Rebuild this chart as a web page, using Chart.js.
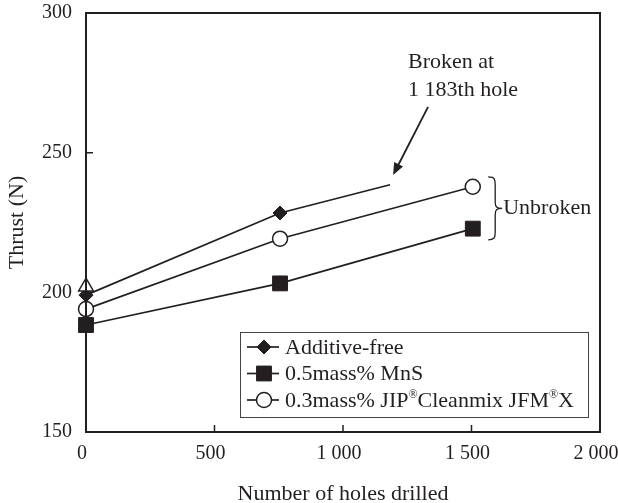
<!DOCTYPE html>
<html>
<head>
<meta charset="utf-8">
<script src="https://cdn.jsdelivr.net/npm/chart.js@4/dist/chart.umd.min.js"></script>
<style>
  html, body { margin: 0; padding: 0; background: #ffffff; }
  #wrap { width: 618px; height: 503px; }
</style>
</head>
<body>
<div id="wrap"><canvas id="c" width="618" height="503"></canvas></div>
<script>
// Thrust measured against the number of holes drilled, per material
const seriesNames = ['Additive-free', '0.5mass% MnS', '0.3mass% JIP\u00AECleanmix JFM\u00AEX'];
const holesAdditiveFree = [0, 755, 1183];
const thrustAdditiveFree = [199, 228.4, 238.5];
const holesMnS = [0, 755, 1505];
const thrustMnS = [188.3, 203.2, 222.8];
const holesCleanmix = [0, 755, 1505];
const thrustCleanmix = [194, 219.2, 237.8];
const holesStart = [0];
const thrustStartTriangle = [202];
const xTicks = [0, 500, 1000, 1500, 2000];
const yTicks = [150, 200, 250, 300];

const INK = '#231f20';
const SERIF = '"Liberation Serif", "Times New Roman", serif';

function pts(xs, ys) { return xs.map((x, i) => ({ x: x, y: ys[i] })); }

const datasets = [
  {
    label: 'start',
    data: pts(holesStart, thrustStartTriangle),
    showLine: false,
    pointStyle: 'triangle',
    pointRadius: 8.5,
    pointBackgroundColor: '#ffffff',
    pointBorderColor: INK,
    pointBorderWidth: 1.5,
    clip: false,
    order: 0
  },
  {
    label: seriesNames[2],
    data: pts(holesCleanmix, thrustCleanmix),
    borderColor: INK, borderWidth: 1.7,
    pointStyle: 'circle', pointRadius: 7.5,
    pointBackgroundColor: '#ffffff', pointBorderColor: INK, pointBorderWidth: 1.5,
    clip: false,
    order: 1
  },
  {
    label: seriesNames[0],
    data: pts(holesAdditiveFree, thrustAdditiveFree),
    borderColor: INK, borderWidth: 1.7,
    pointStyle: 'rectRot', pointRadius: [7, 7, 0],
    pointBackgroundColor: INK, pointBorderColor: INK, pointBorderWidth: 1,
    clip: false,
    order: 2
  },
  {
    label: seriesNames[1],
    data: pts(holesMnS, thrustMnS),
    borderColor: INK, borderWidth: 1.7,
    pointStyle: 'rect', pointRadius: 10.5,
    pointBackgroundColor: INK, pointBorderColor: INK, pointBorderWidth: 1,
    clip: false,
    order: 3
  }
];

// draws text, setting each ® as a small raised mark
function fillRichText(ctx, text, x, y) {
  const parts = text.split('\u00AE');
  let cx = x;
  parts.forEach((p, i) => {
    ctx.font = '22px ' + SERIF;
    ctx.fillText(p, cx, y);
    cx += ctx.measureText(p).width;
    if (i < parts.length - 1) {
      ctx.font = '12px ' + SERIF;
      ctx.fillText('\u00AE', cx, y - 6);
      cx += ctx.measureText('\u00AE').width;
    }
  });
  ctx.font = '22px ' + SERIF;
}

// Frame, inward tick marks, legend box and annotations
const decorations = {
  id: 'decorations',
  afterDatasetsDraw(chart) {
    const ctx = chart.ctx;
    const a = chart.chartArea;
    const xs = chart.scales.x, ys = chart.scales.y;
    ctx.save();
    ctx.strokeStyle = INK;
    ctx.fillStyle = INK;

    // plot frame
    ctx.lineWidth = 2;
    ctx.strokeRect(a.left, a.top, a.right - a.left, a.bottom - a.top);

    // inward ticks
    ctx.lineWidth = 1.5;
    ctx.beginPath();
    yTicks.slice(1, -1).forEach(v => {
      const y = ys.getPixelForValue(v);
      ctx.moveTo(a.left, y); ctx.lineTo(a.left + 7, y);
    });
    xTicks.slice(1, -1).forEach(v => {
      const x = xs.getPixelForValue(v);
      ctx.moveTo(x, a.bottom); ctx.lineTo(x, a.bottom - 7);
    });
    ctx.stroke();

    // annotation: broken drill
    ctx.font = '22px ' + SERIF;
    ctx.textAlign = 'left';
    ctx.textBaseline = 'middle';
    const tx = xs.getPixelForValue(1253);
    ctx.fillText('Broken at', tx, ys.getPixelForValue(282.4));
    ctx.fillText('1 183th hole', tx, ys.getPixelForValue(272.3));

    const ax0 = xs.getPixelForValue(1331), ay0 = ys.getPixelForValue(266.4);
    const ax1 = xs.getPixelForValue(1195), ay1 = ys.getPixelForValue(242.0);
    const ang = Math.atan2(ay1 - ay0, ax1 - ax0);
    const hl = 12, hw = 5;
    ctx.lineWidth = 1.8;
    ctx.beginPath();
    ctx.moveTo(ax0, ay0);
    ctx.lineTo(ax1 - Math.cos(ang) * hl * 0.8, ay1 - Math.sin(ang) * hl * 0.8);
    ctx.stroke();
    ctx.beginPath();
    ctx.moveTo(ax1, ay1);
    ctx.lineTo(ax1 - Math.cos(ang) * hl - Math.sin(ang) * hw, ay1 - Math.sin(ang) * hl + Math.cos(ang) * hw);
    ctx.lineTo(ax1 - Math.cos(ang) * hl + Math.sin(ang) * hw, ay1 - Math.sin(ang) * hl - Math.cos(ang) * hw);
    ctx.closePath();
    ctx.fill();

    // brace for the unbroken series
    const bx = xs.getPixelForValue(1565);
    const btop = ys.getPixelForValue(241.3), bbot = ys.getPixelForValue(218.8);
    const bmid = (btop + bbot) / 2;
    const tip = bx + 14, w = 7;
    ctx.lineWidth = 1.3;
    ctx.beginPath();
    ctx.moveTo(bx, btop);
    ctx.bezierCurveTo(bx + w, btop, bx + w, btop + 3, bx + w, btop + 8);
    ctx.lineTo(bx + w, bmid - 6);
    ctx.bezierCurveTo(bx + w, bmid - 1, bx + w + 2, bmid, tip, bmid);
    ctx.bezierCurveTo(bx + w + 2, bmid, bx + w, bmid + 1, bx + w, bmid + 6);
    ctx.lineTo(bx + w, bbot - 8);
    ctx.bezierCurveTo(bx + w, bbot - 3, bx + w, bbot, bx, bbot);
    ctx.stroke();
    ctx.fillText('Unbroken', tip + 1, bmid);

    // legend
    const lx = 240, ly = 332, lw = 348, lh = 85;
    ctx.fillStyle = '#ffffff';
    ctx.fillRect(lx, ly, lw, lh);
    ctx.strokeStyle = '#444';
    ctx.lineWidth = 1;
    ctx.strokeRect(lx + 0.5, ly + 0.5, lw, lh);
    const rows = [datasets[2], datasets[3], datasets[1]];
    rows.forEach((ds, i) => {
      const cy = ly + 15 + i * 26.5;
      ctx.strokeStyle = INK;
      ctx.lineWidth = 1.7;
      ctx.beginPath();
      ctx.moveTo(lx + 7, cy); ctx.lineTo(lx + 39, cy);
      ctx.stroke();
      const r = Array.isArray(ds.pointRadius) ? ds.pointRadius[0] : ds.pointRadius;
      ctx.fillStyle = ds.pointBackgroundColor;
      ctx.strokeStyle = ds.pointBorderColor;
      ctx.lineWidth = ds.pointBorderWidth;
      Chart.helpers.drawPoint(ctx, { pointStyle: ds.pointStyle, radius: r, borderWidth: ds.pointBorderWidth, rotation: 0 }, lx + 24, cy);
      ctx.fillStyle = INK;
      ctx.textAlign = 'left';
      ctx.textBaseline = 'middle';
      fillRichText(ctx, ds.label, lx + 45, cy + 1);
    });
    ctx.restore();
  }
};

new Chart(document.getElementById('c'), {
  type: 'line',
  data: { datasets: datasets },
  options: {
    responsive: false,
    animation: false,
    devicePixelRatio: 1,
    layout: { padding: { top: 13, right: 18, left: 0, bottom: 0 } },
    plugins: { legend: { display: false }, tooltip: { enabled: false } },
    elements: { line: { tension: 0 } },
    scales: {
      x: {
        type: 'linear',
        min: xTicks[0], max: xTicks[xTicks.length - 1],
        afterBuildTicks: s => { s.ticks = xTicks.map(v => ({ value: v })); },
        afterFit: s => { s.height = 71; s.paddingLeft = 0; s.paddingRight = 0; },
        grid: { display: false, drawTicks: false },
        border: { display: false },
        ticks: {
          color: INK,
          font: { family: SERIF, size: 20 },
          padding: 10,
          labelOffset: -4,
          maxRotation: 0,
          callback: v => v >= 1000 ? Math.floor(v / 1000) + ' ' + String(v % 1000).padStart(3, '0') : String(v)
        },
        title: {
          display: true,
          text: 'Number of holes drilled',
          color: INK,
          font: { family: SERIF, size: 22, lineHeight: 0.8 },
          padding: { top: 0, bottom: 0 }
        }
      },
      y: {
        type: 'linear',
        min: yTicks[0], max: yTicks[yTicks.length - 1],
        afterBuildTicks: s => { s.ticks = yTicks.map(v => ({ value: v })); },
        afterFit: s => { s.width = 86; s.paddingTop = 0; s.paddingBottom = 0; },
        grid: { display: false, drawTicks: false },
        border: { display: false },
        ticks: {
          color: INK,
          font: { family: SERIF, size: 20 },
          padding: 14
        },
        title: {
          display: true,
          text: 'Thrust (N)',
          color: INK,
          font: { family: SERIF, size: 22, lineHeight: 1 },
          padding: { top: 6, bottom: 0 }
        }
      }
    }
  },
  plugins: [decorations]
});
</script>
</body>
</html>
